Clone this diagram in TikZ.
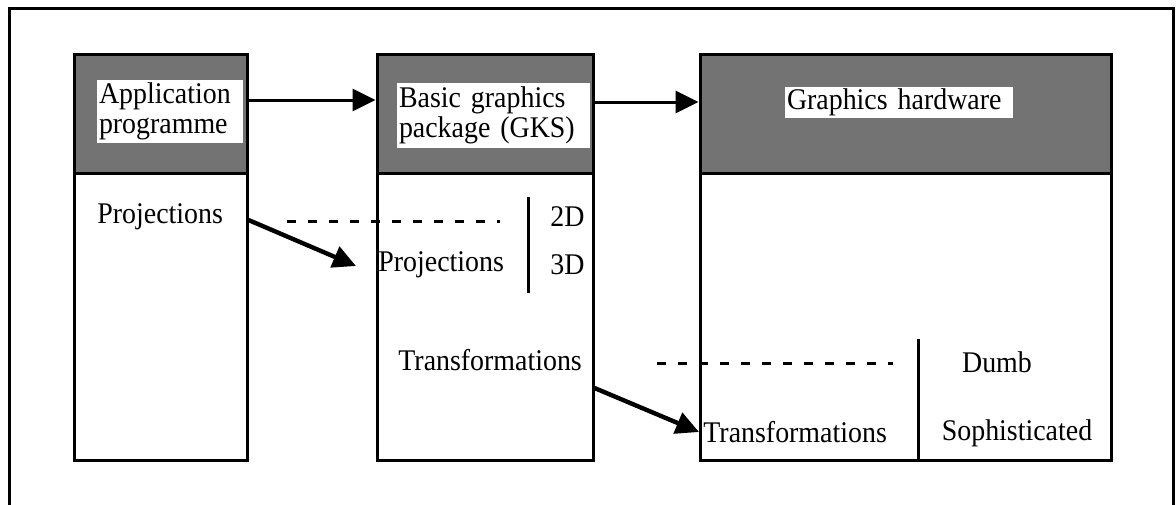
\documentclass[tikz,border=0pt]{standalone}
\usepackage{fontspec}
\setmainfont{Liberation Serif}[FakeStretch=0.93]
\usetikzlibrary{arrows.meta}
\begin{document}
\begin{tikzpicture}[x=0.5pt,y=-0.5pt,
  every node/.style={font=\fontsize{15}{15}\selectfont},
  panel/.style={draw, line width=1.5pt, inner sep=0pt},
  shaded/.style={draw, line width=1.5pt, inner sep=0pt, fill=black!55},
  label/.style={fill=white, inner xsep=1pt, inner ysep=0pt, align=left},
  txt/.style={inner sep=0pt},
  arr/.style={line width=1.5pt, -{Triangle[length=11.5pt,width=11pt]}},
  darr/.style={line width=2.2pt, -{Triangle[length=11.5pt,width=11pt]}},
  dashline/.style={line width=1.5pt, dash pattern=on 4.5pt off 6pt},
  divider/.style={line width=1.5pt}]
\useasboundingbox (0,0) rectangle (1176,504);
\clip (0,0) rectangle (1176,504);
% outer frame
\draw[line width=1.5pt] (9,8) rectangle (1173,540);
% boxes
\node[panel, minimum width=86.5pt, minimum height=203pt] (b1) at (160.5,257) {};
\node[shaded, minimum width=86.5pt, minimum height=59.5pt] (b1s) at (160.5,113.5) {};
\node[panel, minimum width=108pt, minimum height=203pt] (b2) at (485,257) {};
\node[shaded, minimum width=108pt, minimum height=59.5pt] (b2s) at (485,113.5) {};
\node[panel, minimum width=205.5pt, minimum height=203pt] (b3) at (905.5,257) {};
\node[shaded, minimum width=205.5pt, minimum height=59.5pt] (b3s) at (905.5,113.5) {};
% header labels
\node[label, text width=71pt, minimum height=31.5pt] (l1) at (170,111.5) {Application\\programme};
\node[label, text width=94.5pt, minimum height=32.5pt] (l2) at (493.5,115.5) {Basic graphics\\package (GKS)};
\node[label, text width=112pt, minimum height=15.5pt] (l3) at (899,102.5) {Graphics hardware};
% body texts
\node[txt, anchor=west] (p1) at (97,217) {Projections};
\node[txt, anchor=west] (d2) at (550,217) {2D};
\node[txt, anchor=west] (d3) at (550,265) {3D};
\node[txt, anchor=west] (p2) at (378,265) {Projections};
\node[txt, anchor=west] (t2) at (398,360) {Transformations};
\node[txt, anchor=west] (t3) at (703,432) {Transformations};
\node[txt] (dumb) at (997,362) {Dumb};
\node[txt] (soph) at (1017,433) {Sophisticated};
% dividers
\coordinate (v1a) at (528,197);
\coordinate (v1b) at (528,293);
\draw[divider] (v1a) -- (v1b);
\coordinate (v2a) at (918,339);
\draw[divider] (v2a) -- (v2a |- b3.south);
% dashed lines
\coordinate (dl1a) at (287,221);
\coordinate (dl1b) at (500,221);
\draw[dashline] (dl1a) -- (dl1b);
\coordinate (dl2a) at (657,363);
\coordinate (dl2b) at (893,363);
\draw[dashline] (dl2a) -- (dl2b);
% top arrows
\draw[arr] (b1s.east |- 0,100) -- (b2s.west |- 0,100);
\draw[arr] (b2s.east |- 0,102) -- (b3s.west |- 0,102);
% diagonal arrows
\coordinate (ta1) at (356,266);
\draw[darr] (b1.east |- 0,220) -- (ta1);
\coordinate (ta2) at (699,432);
\draw[darr] (b2.east |- 0,388) -- (ta2);
\end{tikzpicture}
\end{document}
